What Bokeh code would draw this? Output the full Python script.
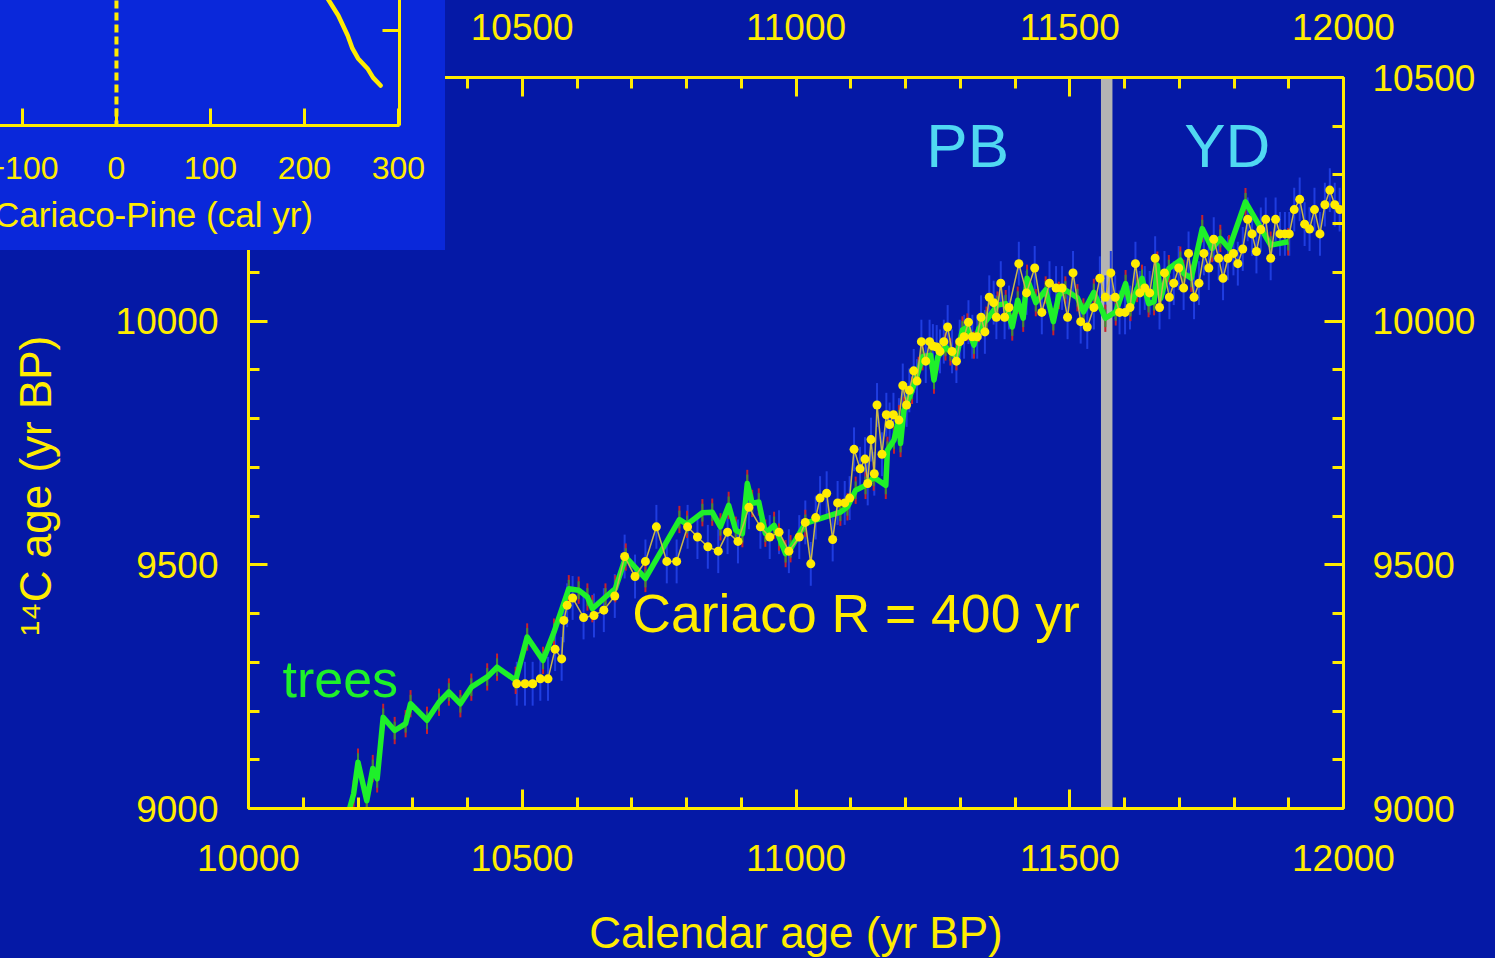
from bokeh.plotting import figure
from bokeh.models import (Range1d, LinearAxis, SingleIntervalTicker, FixedTicker,
                          BoxAnnotation, Span, Label)
from bokeh.embed import file_html
from bokeh.resources import INLINE

# ---- Cariaco basin varved sediment, 14C age vs calendar age (R = 400 yr)
cariaco_cal = [10490, 10505, 10519, 10533, 10547, 10560, 10572, 10576, 10582, 10592,
               10612, 10631, 10649, 10669, 10687, 10706, 10725, 10745, 10764, 10782,
               10802, 10820, 10839, 10858, 10875, 10894, 10914, 10935, 10952, 10969,
               10987, 11006, 11017, 11027, 11036, 11044, 11056, 11067, 11076, 11089,
               11098, 11106, 11117, 11126, 11131, 11137, 11143, 11148, 11157, 11165,
               11171, 11178, 11188, 11195, 11202, 11207, 11215, 11221, 11229, 11237,
               11244, 11250, 11257, 11263, 11270, 11277, 11285, 11293, 11299, 11307,
               11315, 11322, 11331, 11338, 11345, 11353, 11361, 11366, 11374, 11381,
               11389, 11407, 11421, 11436, 11449, 11463, 11475, 11486, 11496, 11506,
               11520, 11532, 11544, 11555, 11565, 11575, 11583, 11591, 11601, 11610,
               11620, 11628, 11637, 11646, 11656, 11664, 11673, 11682, 11690, 11699,
               11708, 11717, 11727, 11736, 11745, 11754, 11763, 11772, 11780, 11789,
               11799, 11807, 11816, 11825, 11833, 11841, 11849, 11858, 11867, 11876,
               11884, 11893, 11901, 11910, 11920, 11929, 11938, 11947, 11957, 11966,
               11975, 11984, 11993]
cariaco_c14 = [9256, 9256, 9256, 9266, 9266, 9327, 9307, 9386, 9417, 9432,
               9392, 9396, 9407, 9436, 9517, 9476, 9507, 9578, 9507, 9507,
               9578, 9557, 9537, 9528, 9567, 9548, 9618, 9578, 9557, 9567,
               9528, 9557, 9587, 9502, 9597, 9637, 9647, 9552, 9627, 9627,
               9637, 9737, 9697, 9717, 9667, 9757, 9687, 9828, 9727, 9808,
               9788, 9808, 9797, 9868, 9828, 9858, 9898, 9877, 9958, 9918,
               9958, 9949, 9947, 9938, 9958, 9988, 9938, 9918, 9958, 9968,
               9998, 9968, 9968, 10008, 9978, 10049, 10038, 10008, 10078, 10008,
               10028, 10118, 10058, 10109, 10018, 10078, 10068, 10068, 10008, 10099,
               9999, 9988, 10028, 10088, 10049, 10099, 10049, 10018, 10018, 10028,
               10118, 10058, 10068, 10058, 10129, 10028, 10099, 10049, 10078, 10109,
               10068, 10139, 10049, 10078, 10139, 10109, 10168, 10129, 10088, 10129,
               10139, 10118, 10148, 10209, 10179, 10143, 10188, 10209, 10129, 10209,
               10179, 10179, 10179, 10229, 10250, 10199, 10189, 10229, 10179, 10239,
               10269, 10239, 10229]
CARIACO_ERR = 45

# ---- Tree-ring calibration data
tree_cal = [10170, 10192, 10200, 10216, 10227, 10235, 10246, 10267, 10287, 10296,
            10326, 10348, 10366, 10387, 10407, 10436, 10454, 10488, 10509, 10538,
            10558, 10585, 10603, 10619, 10628, 10652, 10670, 10689, 10725, 10787,
            10801, 10829, 10847, 10862, 10877, 10890, 10902, 10911, 10920, 10932,
            10944, 10960, 10969, 10981, 10990, 11017, 11081, 11094, 11109, 11127,
            11142, 11164, 11167, 11179, 11188, 11191, 11197, 11212, 11224, 11231,
            11246, 11252, 11259, 11273, 11282, 11293, 11304, 11313, 11325, 11334,
            11348, 11368, 11383, 11395, 11405, 11415, 11422, 11438, 11456, 11470,
            11480, 11492, 11514, 11525, 11544, 11565, 11584, 11602, 11611, 11623,
            11632, 11644, 11654, 11660, 11666, 11681, 11702, 11708, 11722, 11742,
            11760, 11775, 11791, 11821, 11867, 11899]
tree_c14 = [8940, 9030, 9095, 9016, 9082, 9061, 9187, 9160, 9174, 9215,
            9181, 9218, 9239, 9215, 9249, 9270, 9290, 9263, 9352, 9304,
            9362, 9451, 9448, 9434, 9410, 9434, 9451, 9516, 9472, 9593,
            9583, 9607, 9608, 9578, 9622, 9571, 9564, 9667, 9626, 9629,
            9565, 9581, 9557, 9523, 9533, 9585, 9608, 9619, 9653, 9663,
            9680, 9663, 9735, 9756, 9800, 9749, 9817, 9858, 9899, 9927,
            9930, 9879, 9927, 9947, 9937, 9927, 9982, 9988, 9951, 9985,
            10002, 10033, 10036, 9988, 10043, 10006, 10088, 10038, 10064, 9999,
            10053, 10064, 10048, 10019, 10059, 10006, 10019, 10077, 10028, 10067,
            10088, 10036, 10040, 10115, 10047, 10108, 10125, 10098, 10088, 10190,
            10149, 10170, 10149, 10245, 10156, 10163]
TREE_ERR = 28

# Preboreal / Younger Dryas boundary
boundary_cal = [11557, 11578]

# ---- Inset: Cariaco minus pine offset
inset_offset = [218, 226, 236, 246, 251, 257, 267, 273, 281]
inset_cal = [11600, 11572, 11536, 11488, 11457, 11433, 11409, 11387, 11368]

BG = "#0519A6"
INSET_BG = "#0A28DA"
YELLOW = "#FFEC00"
GREEN = "#1EF02A"
CYAN = "#50D8F2"
FONT = "Liberation Sans"


def style_axis(ax, label_size="37px", title_size="44px", standoff=28,
               tick_in=19, minor_in=11):
    ax.axis_line_color = YELLOW
    ax.axis_line_width = 3
    ax.major_tick_line_color = YELLOW
    ax.major_tick_line_width = 3
    ax.minor_tick_line_color = YELLOW
    ax.minor_tick_line_width = 3
    ax.major_tick_in = tick_in
    ax.major_tick_out = 0
    ax.minor_tick_in = minor_in
    ax.minor_tick_out = 0
    ax.major_label_text_color = YELLOW
    ax.major_label_text_font = FONT
    ax.major_label_text_font_size = label_size
    ax.major_label_standoff = standoff
    ax.axis_label_text_color = YELLOW
    ax.axis_label_text_font = FONT
    ax.axis_label_text_font_size = title_size
    ax.axis_label_text_font_style = "normal"


# ================= main chart =================
p = figure(frame_width=1095, frame_height=731,
           x_range=Range1d(10000, 12000), y_range=Range1d(9000, 10500),
           output_backend="svg", toolbar_location=None, tools="",
           min_border_left=249, min_border_right=152,
           min_border_top=78, min_border_bottom=150)
p.background_fill_color = BG
p.border_fill_color = BG
p.outline_line_color = None
p.grid.visible = False
p.styles = {"position": "absolute", "left": "-1px", "top": "-1px"}

xt = SingleIntervalTicker(interval=500, num_minor_ticks=5)
yt = SingleIntervalTicker(interval=500, num_minor_ticks=5)

p.xaxis.ticker = xt
p.yaxis.ticker = yt
p.xaxis.axis_label = "Calendar age (yr BP)"
p.yaxis.axis_label = "\u00b9\u2074C age (yr BP)" + "\u00a0" * 7
for ax in p.xaxis + p.yaxis:
    style_axis(ax)
p.xaxis.major_label_standoff = 36
p.xaxis.axis_label_standoff = 34
p.yaxis.major_label_standoff = 30
p.yaxis.axis_label_standoff = 53

top_ax = LinearAxis(ticker=xt)
right_ax = LinearAxis(ticker=yt)
style_axis(top_ax, standoff=38)
style_axis(right_ax, standoff=29)
p.add_layout(top_ax, "above")
p.add_layout(right_ax, "right")

p.add_layout(BoxAnnotation(left=boundary_cal[0], right=boundary_cal[1],
                           fill_color="#B4B4B4", fill_alpha=1.0,
                           line_color=None, level="underlay"))

# error bars
p.segment(x0=cariaco_cal, x1=cariaco_cal,
          y0=[v - CARIACO_ERR for v in cariaco_c14],
          y1=[v + CARIACO_ERR for v in cariaco_c14],
          line_color="#1F3DE0", line_width=2)
p.segment(x0=tree_cal, x1=tree_cal,
          y0=[v - TREE_ERR for v in tree_c14],
          y1=[v + TREE_ERR for v in tree_c14],
          line_color="#C8202C", line_width=2)
p.segment(x0=tree_cal, x1=tree_cal,
          y0=[v - TREE_ERR * 0.65 for v in tree_c14],
          y1=[v + TREE_ERR * 0.65 for v in tree_c14],
          line_color="#3E8E3A", line_width=2)

# trees
p.line(tree_cal, tree_c14, line_color=GREEN, line_width=5.5, line_join="round")

# Cariaco
p.line(cariaco_cal, cariaco_c14, line_color="#C8B74A", line_width=1.5)
p.scatter(cariaco_cal, cariaco_c14, size=9, fill_color=YELLOW, line_color=None)

p.add_layout(Label(x=10062, y=9266, text="trees", text_color=GREEN,
                   text_font=FONT, text_font_size="52px",
                   text_baseline="alphabetic"))
p.add_layout(Label(x=10701, y=9401, text="Cariaco R = 400 yr", text_color=YELLOW,
                   text_font=FONT, text_font_size="53.5px",
                   text_baseline="alphabetic"))
p.add_layout(Label(x=11238, y=10361, text="PB", text_color=CYAN,
                   text_font=FONT, text_font_size="62px",
                   text_baseline="alphabetic"))
p.add_layout(Label(x=11709, y=10361, text="YD", text_color=CYAN,
                   text_font=FONT, text_font_size="62px",
                   text_baseline="alphabetic"))

# ================= inset =================
ins = figure(frame_width=492, frame_height=185,
             x_range=Range1d(-222.3, 301.1), y_range=Range1d(11272, 11716),
             output_backend="svg", toolbar_location=None, tools="",
             min_border_left=0, min_border_right=46,
             min_border_top=0, min_border_bottom=125,
             y_axis_location="right")
ins.background_fill_color = INSET_BG
ins.border_fill_color = INSET_BG
ins.outline_line_color = None
ins.grid.visible = False
ins.styles = {"position": "absolute", "left": "-93px", "top": "-60px",
              "z-index": "10"}

ins.xaxis.ticker = SingleIntervalTicker(interval=100, num_minor_ticks=0)
ins.xaxis.axis_label = "Cariaco-Pine (cal yr)"
style_axis(ins.xaxis[0], label_size="32px", title_size="35px", standoff=31,
           tick_in=17, minor_in=0)
ins.xaxis.axis_label_standoff = 13

ins.yaxis.ticker = FixedTicker(ticks=[11000, 11500, 12000])
style_axis(ins.yaxis[0], label_size="1px", title_size="1px", standoff=0,
           tick_in=17, minor_in=0)
ins.yaxis.major_label_text_alpha = 0

ins.add_layout(Span(location=0, dimension="height", line_color=YELLOW,
                    line_width=4, line_dash="8 4"))
ins.line(inset_offset, inset_cal, line_color=YELLOW, line_width=4.5,
         line_join="round", line_cap="round")

open("out.html", "w").write(file_html([p, ins], INLINE))
